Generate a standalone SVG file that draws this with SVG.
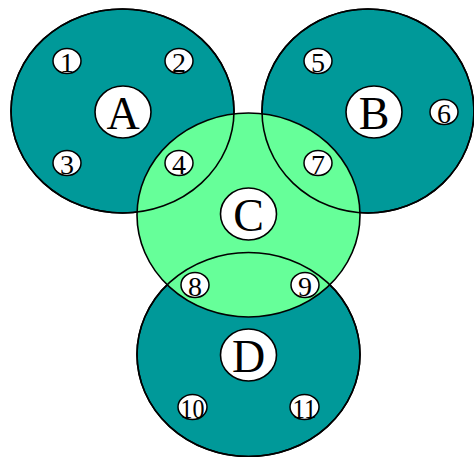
<svg xmlns="http://www.w3.org/2000/svg" width="474" height="457" viewBox="0 0 474 457">
<style>
.big{fill:#009999;stroke:#000;stroke-width:1.6}
.bigc{fill:#66FF99;stroke:#000;stroke-width:1.6}
.ol{fill:none;stroke:#000;stroke-width:1.6}
.lab{fill:#fff;stroke:#000;stroke-width:1.6}
.sm{fill:#fff;stroke:#000;stroke-width:1.5}
.bt{font-family:"Liberation Serif","Times New Roman",serif;font-size:46px;text-anchor:middle;fill:#000}
.st{font-family:"Liberation Serif","Times New Roman",serif;font-size:28px;text-anchor:middle;fill:#000}
</style>
<rect width="474" height="457" fill="#fff"/>
<g id="A"><ellipse class="big" cx="122.5" cy="111" rx="111.5" ry="102"/></g>
<g id="B"><ellipse class="big" cx="368" cy="111" rx="106" ry="102"/></g>
<g id="D"><ellipse class="big" cx="248.5" cy="354.5" rx="111.5" ry="102"/></g>
<g id="C"><ellipse class="bigc" cx="248.5" cy="215" rx="111.5" ry="102"/></g>
<g id="outlines">
<ellipse class="ol" cx="122.5" cy="111" rx="111.5" ry="102"/>
<ellipse class="ol" cx="368" cy="111" rx="106" ry="102"/>
<ellipse class="ol" cx="248.5" cy="354.5" rx="111.5" ry="102"/>
</g>
<g id="connectors"></g>
<g id="labelA"><ellipse class="lab" cx="123" cy="112" rx="28" ry="26"/><text class="bt" x="123" y="129">A</text></g>
<g id="labelB"><ellipse class="lab" cx="374" cy="112" rx="28" ry="26"/><text class="bt" x="374" y="129">B</text></g>
<g id="labelC"><ellipse class="lab" cx="248.5" cy="214" rx="28" ry="26"/><text class="bt" x="248.5" y="231">C</text></g>
<g id="labelD"><ellipse class="lab" cx="248.5" cy="355" rx="28" ry="26"/><text class="bt" x="248.5" y="372">D</text></g>
<g id="n1"><ellipse class="sm" cx="67" cy="61" rx="14" ry="12.5"/><text class="st" x="67" y="72">1</text></g>
<g id="n2"><ellipse class="sm" cx="179" cy="61" rx="14" ry="12.5"/><text class="st" x="179" y="72">2</text></g>
<g id="n3"><ellipse class="sm" cx="67" cy="163" rx="14" ry="12.5"/><text class="st" x="67" y="174">3</text></g>
<g id="n4"><ellipse class="sm" cx="179" cy="163" rx="14" ry="12.5"/><text class="st" x="179" y="174">4</text></g>
<g id="n5"><ellipse class="sm" cx="318" cy="61" rx="14" ry="12.5"/><text class="st" x="318" y="72">5</text></g>
<g id="n6"><ellipse class="sm" cx="444" cy="112" rx="14" ry="12.5"/><text class="st" x="444" y="123">6</text></g>
<g id="n7"><ellipse class="sm" cx="318" cy="163" rx="14" ry="12.5"/><text class="st" x="318" y="174">7</text></g>
<g id="n8"><ellipse class="sm" cx="195" cy="285" rx="14" ry="12.5"/><text class="st" x="195" y="296">8</text></g>
<g id="n9"><ellipse class="sm" cx="305" cy="285" rx="14" ry="12.5"/><text class="st" x="305" y="296">9</text></g>
<g id="n10"><ellipse class="sm" cx="192.5" cy="407" rx="14.5" ry="12.5"/><text class="st" x="192.5" y="418" textLength="24" lengthAdjust="spacingAndGlyphs">10</text></g>
<g id="n11"><ellipse class="sm" cx="304.5" cy="407" rx="14.5" ry="12.5"/><text class="st" x="304.5" y="418" textLength="24" lengthAdjust="spacingAndGlyphs">11</text></g>
</svg>
